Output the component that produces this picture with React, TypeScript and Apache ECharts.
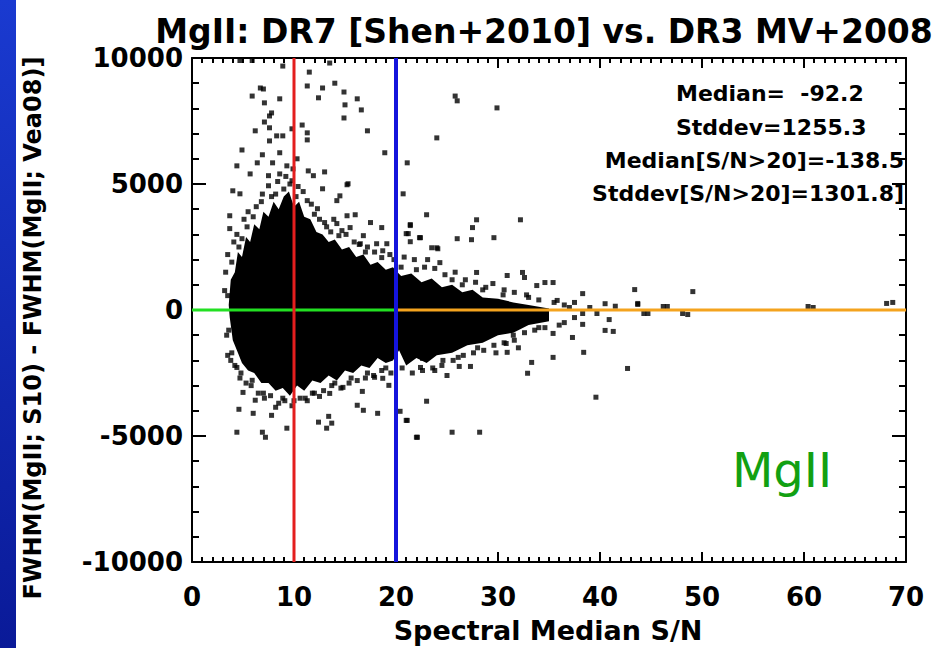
import React, { useEffect, useRef } from "react";
import * as echarts from "echarts";

// Axis ranges
const xRange = [0, 70];
const yRange = [-10000, 10000];

// Dense core of the scatter cloud: upper envelope (left to right), lower envelope (right to left)
const cloudUpperX = [3.6, 3.8, 4.2, 4.5, 4.9, 5.3, 5.7, 6.1, 6.6, 7.0, 7.5, 8.0, 8.5, 9.0, 9.5, 10.0, 10.5, 11.0, 11.6, 12.2, 12.8, 13.4, 14.0, 14.7, 15.4, 16.1, 16.8, 17.5, 18.2, 19.0, 19.7, 20.5, 21.5, 22.5, 23.5, 24.5, 25.5, 26.5, 27.5, 28.5, 30, 31.5, 33, 35];
const cloudUpperY = [200, 1200, 1500, 2300, 2100, 2900, 2700, 3400, 3200, 3900, 3700, 4300, 4000, 4500, 4700, 4100, 4300, 3700, 3600, 3100, 3000, 2700, 2800, 2400, 2500, 2100, 2200, 1800, 1900, 1600, 1700, 1350, 1450, 1100, 1250, 900, 1000, 700, 800, 500, 450, 300, 200, 60];
const cloudLowerX = [35, 33, 31.5, 30, 28.5, 27, 25.5, 24, 23, 22, 21, 20.3, 19.7, 19, 18.2, 17.4, 16.6, 15.8, 15, 14.2, 13.4, 12.6, 11.8, 11, 10.3, 9.6, 8.9, 8.2, 7.5, 6.8, 6.1, 5.5, 4.9, 4.4, 4.0, 3.7];
const cloudLowerY = [-450, -600, -900, -1000, -1300, -1400, -1700, -1800, -2100, -1900, -2200, -1600, -2000, -2100, -1900, -2300, -2200, -2500, -2400, -2800, -2600, -2900, -2800, -3200, -3000, -3400, -3100, -3200, -2900, -2900, -2500, -2400, -2100, -1600, -1200, -300];

// Individual points above the core
const upperPoints: number[][] = [
  [4.7, 9900], [5.9, 9900], [8.9, 9680], [13.5, 9800], [11.5, 9440], [6.7, 8810], [7.0, 8770],
  [11.3, 8890], [12.8, 8810], [14.0, 9000], [14.9, 8650], [5.9, 8490], [8.6, 8380], [7.1, 8220],
  [12.4, 8420], [15.0, 8140], [16.2, 8380], [16.6, 7940], [14.9, 7620], [7.8, 7820], [7.6, 7700],
  [7.1, 7460], [6.2, 7110], [7.6, 7230], [9.8, 7190], [10.8, 7340], [11.3, 7030], [17.2, 7110],
  [8.3, 6910], [8.9, 6910], [7.6, 6710], [11.3, 6750], [4.9, 6350], [6.9, 6160], [8.6, 6240],
  [10.3, 6000], [4.4, 5720], [6.4, 5840], [7.9, 5840], [9.3, 5720], [18.9, 6240], [21.1, 5840],
  [24.0, 6830], [5.7, 5400], [7.5, 5330], [8.6, 5400], [11.4, 5520], [13.0, 5480], [11.9, 5330],
  [9.8, 5130], [15.3, 5010], [25.8, 8490], [26.0, 8300], [29.9, 8020], [20.7, 4610], [23.0, 3780],
  [27.9, 3580], [32.2, 3580], [21.4, 3390], [27.5, 3270], [21.0, 3030], [22.3, 2870], [21.4, 2710],
  [26.0, 2830], [27.4, 2790], [29.6, 2870], [23.5, 2470], [24.1, 2430], [23.1, 2000], [24.3, 1880],
  [27.9, 1490], [30.9, 1370], [32.4, 1490], [32.6, 1290], [33.8, 970], [34.6, 1090], [35.4, 1090],
  [38.3, 650], [43.4, 810], [43.7, 260], [35.8, 380], [37.5, 300], [43.7, 220], [46.6, 140],
  [49.1, 730], [60.9, 100], [68.7, 300], [46.2, 140], [68.1, 260], [60.4, 140],
  [3.7, 3740], [3.7, 3230], [4.9, 2830], [3.2, 770], [3.5, 570], [4.0, 4730], [4.7, 4610],
  [7.5, 4930], [7.3, 3430], [15.2, 4970], [15.2, 3740], [16.0, 3780], [17.5, 3470], [18.6, 3270],
  [16.8, 2950], [13.0, 3470], [14.2, 3430], [14.7, 3150], [15.5, 3270], [21.4, 3350], [21.2, 3030],
  [22.4, 2870], [24.0, 2470], [11.3, 4340], [12.3, 4020], [14.2, 4340], [14.5, 4530], [12.8, 4810],
  [16.5, 2630], [18.1, 2630], [19.1, 2630], [18.6, 2080], [9.0, 4800], [9.6, 5000], [8.2, 4600],
  [10.2, 4500], [6.8, 4300], [5.4, 3300], [4.6, 2500], [6.0, 3700], [12.0, 3800], [13.6, 3100],
  [17.0, 2300], [19.8, 2000], [20.5, 1700], [22.0, 1600], [25.5, 1200], [26.5, 1000], [28.5, 800],
  [30.5, 600], [33.0, 500], [36.5, 200], [39.0, 100], [40.5, 250], [41.5, 150]
];

// Points along the ragged edge of the core
const fringePoints: number[][] = [
  [3.3, 1500], [3.4, -1000], [3.5, 2200], [3.9, 1900], [4.1, 2700], [4.4, 3000], [5.1, 3600],
  [5.5, 3900], [6.3, 4100], [6.9, 4600], [7.8, 4500], [8.4, 5100], [9.2, 5300], [9.9, 5600],
  [10.4, 4900], [10.9, 4700], [11.7, 4200], [12.5, 3600], [13.2, 3300], [13.9, 3600], [14.4, 2950],
  [15.1, 3000], [15.9, 2700], [16.4, 2600], [17.2, 2500], [17.9, 2300], [18.7, 2350], [19.4, 2200],
  [20.8, 2100], [21.8, 2000], [22.8, 1700], [23.8, 1650], [24.8, 1400], [25.8, 1500], [26.8, 1200],
  [27.8, 1100], [28.8, 900], [29.5, 1050], [30.6, 800], [31.6, 700], [32.8, 600], [34.0, 400],
  [35.5, 300], [37.0, 100], [3.5, -1800], [3.8, -2000], [4.2, -2200], [4.7, -2700], [5.3, -2900],
  [5.8, -3000], [6.5, -3300], [7.1, -3500], [7.7, -3400], [8.5, -3700], [9.1, -3600], [9.8, -3800],
  [10.6, -3500], [11.3, -3600], [12.0, -3300], [12.9, -3200], [13.7, -3000], [14.6, -3100],
  [15.4, -2900], [16.2, -2800], [17.0, -2700], [17.8, -2600], [18.6, -2400], [19.5, -2500],
  [20.6, -2300], [21.6, -2500], [22.6, -2400], [23.6, -2300], [24.6, -2000], [25.6, -2000],
  [26.6, -1800], [27.6, -1700], [28.6, -1600], [29.6, -1400], [30.6, -1300], [31.6, -1200],
  [32.6, -900], [33.6, -800], [34.6, -700], [36.0, -600], [37.5, -300]
];

// Individual points below the core
const lowerPoints: number[][] = [
  [44.3, -140], [48.1, -140], [44.7, -140], [48.6, -180], [38.3, -140], [39.7, -140], [40.9, -380],
  [40.5, -810], [41.3, -850], [38.3, -570], [37.3, -1090], [38.4, -1680], [35.4, -1880], [33.3, -2080],
  [32.9, -2510], [42.7, -2320], [39.6, -3460], [23.0, -3620], [21.0, -4380], [25.5, -4850], [22.0, -5050],
  [30.8, -1330], [30.9, -1680], [35.4, -930], [27.3, -2240], [26.2, -2240], [26.1, -1880],
  [4.4, -2280], [5.0, -3270], [5.9, -2790], [6.2, -3580], [4.6, -3940], [6.0, -4100], [7.8, -4180],
  [4.4, -4850], [6.9, -4850], [7.2, -5050], [8.2, -3860], [9.3, -4690], [12.4, -4450], [13.4, -4220],
  [13.7, -4490], [13.2, -4690], [16.2, -3780], [16.8, -3980], [18.2, -4100], [14.8, -3070], [16.7, -3230],
  [19.3, -2990], [13.5, -3310], [12.5, -3430], [11.1, -3500], [8.9, -3500], [20.4, -4020], [21.1, -4380],
  [22.1, -5050], [22.4, -2280], [22.6, -1920], [18.7, -2710], [17.9, -2670], [28.2, -4850],
  [3.6, -800], [3.9, -1700], [4.8, -2500], [7.0, -3300], [10.0, -3600], [11.8, -3300], [14.0, -2900],
  [15.6, -2700], [17.2, -2500], [19.0, -2300], [24.5, -2200], [28.0, -1500], [31.5, -1000], [34.0, -700],
  [36.5, -500], [25.0, -2600], [23.8, -2400], [29.8, -1700], [32.0, -1500]
];

// Reference lines
const redLine = [[10, -10000], [10, 10000]];
const blueLine = [[20, -10000], [20, 10000]];
const greenLine = [[0, 0], [20, 0]];
const orangeLine = [[20, 0], [70, 0]];

const statLines = [
  "Median=  -92.2",
  "Stddev=1255.3",
  "Median[S/N>20]=-138.5",
  "Stddev[S/N>20]=1301.8]"
];

const FONT = "DejaVu Sans";

export default function App() {
  const ref = useRef<HTMLDivElement>(null);
  useEffect(() => {
    document.body.style.margin = "0";
    const chart = echarts.init(ref.current!, undefined, { renderer: "svg" });
    const labelStyle = { color: "#000", fontFamily: FONT, fontWeight: "bold" as const, fontSize: 26 };
    const tickLine = { color: "#000", width: 2 };
    const mkX = (pos: string, showLabel: boolean) => ({
      type: "value", position: pos, min: xRange[0], max: xRange[1], interval: 10,
      axisLine: { show: true, onZero: false, lineStyle: { color: "#000", width: 2 } },
      axisTick: { show: true, inside: true, length: 10, lineStyle: tickLine },
      minorTick: { show: true, splitNumber: 10, length: 5, lineStyle: tickLine },
      splitLine: { show: false },
      minorSplitLine: { show: false },
      axisLabel: showLabel ? { ...labelStyle, margin: 22 } : { show: false }
    });
    const mkY = (pos: string, showLabel: boolean) => ({
      type: "value", position: pos, min: yRange[0], max: yRange[1], interval: 5000,
      axisLine: { show: true, onZero: false, lineStyle: { color: "#000", width: 2 } },
      axisTick: { show: true, inside: true, length: 14, lineStyle: tickLine },
      minorTick: { show: true, splitNumber: 5, length: 7, lineStyle: tickLine },
      splitLine: { show: false },
      minorSplitLine: { show: false },
      axisLabel: showLabel ? { ...labelStyle, margin: 9, formatter: (v: number) => String(v) } : { show: false }
    });
    const option: any = {
      animation: false,
      backgroundColor: "#fff",
      grid: { left: 192, top: 58, width: 714, height: 504 },
      xAxis: [mkX("bottom", true), mkX("top", false)],
      yAxis: [mkY("left", true), mkY("right", false)],
      series: [
        {
          type: "custom",
          z: 1,
          data: [0],
          renderItem: (params: any, api: any) => {
            const pts: number[][] = [];
            for (let i = 0; i < cloudUpperX.length; i++) pts.push(api.coord([cloudUpperX[i], cloudUpperY[i]]));
            for (let i = 0; i < cloudLowerX.length; i++) pts.push(api.coord([cloudLowerX[i], cloudLowerY[i]]));
            return { type: "polygon", shape: { points: pts }, style: { fill: "#000" } };
          }
        },
        { type: "scatter", z: 2, symbol: "rect", symbolSize: 5, itemStyle: { color: "#000" }, data: upperPoints },
        { type: "scatter", z: 2, symbol: "rect", symbolSize: 5, itemStyle: { color: "#000" }, data: fringePoints },
        { type: "scatter", z: 2, symbol: "rect", symbolSize: 5, itemStyle: { color: "#000" }, data: lowerPoints },
        { type: "line", z: 3, data: greenLine, symbol: "none", lineStyle: { color: "#22e022", width: 3 } },
        { type: "line", z: 3, data: orangeLine, symbol: "none", lineStyle: { color: "#f4a31e", width: 3 } },
        { type: "line", z: 4, data: redLine, symbol: "none", lineStyle: { color: "#e41e1e", width: 3 } },
        { type: "line", z: 4, data: blueLine, symbol: "none", lineStyle: { color: "#1414dc", width: 4 } }
      ],
      graphic: [
        {
          type: "rect", left: 0, top: 0, shape: { width: 16, height: 648 },
          style: {
            fill: new echarts.graphic.LinearGradient(0, 0, 0, 1, [
              { offset: 0, color: "#1a3ad0" },
              { offset: 1, color: "#0a1a98" }
            ])
          }
        },
        {
          type: "text", x: 544, y: 31,
          style: { text: "MgII: DR7 [Shen+2010] vs. DR3 MV+2008", fill: "#000", font: `bold 33px '${FONT}'`, textAlign: "center", textVerticalAlign: "middle" }
        },
        {
          type: "text", x: 33, y: 328, rotation: Math.PI / 2,
          style: { text: "FWHM(MgII; S10) - FWHM(MgII; Vea08)]", fill: "#000", font: `bold 24px '${FONT}'`, textAlign: "center", textVerticalAlign: "middle" }
        },
        {
          type: "text", x: 548, y: 630,
          style: { text: "Spectral Median S/N", fill: "#000", font: `bold 27px '${FONT}'`, textAlign: "center", textVerticalAlign: "middle" }
        },
        { type: "text", x: 676, y: 93, style: { text: statLines[0], fill: "#000", font: `bold 22px '${FONT}'`, textAlign: "left", textVerticalAlign: "middle" } },
        { type: "text", x: 676, y: 127, style: { text: statLines[1], fill: "#000", font: `bold 22px '${FONT}'`, textAlign: "left", textVerticalAlign: "middle" } },
        { type: "text", x: 904, y: 160, style: { text: statLines[2], fill: "#000", font: `bold 22px '${FONT}'`, textAlign: "right", textVerticalAlign: "middle" } },
        { type: "text", x: 904, y: 193, style: { text: statLines[3], fill: "#000", font: `bold 22px '${FONT}'`, textAlign: "right", textVerticalAlign: "middle" } },
        {
          type: "text", x: 782, y: 470,
          style: { text: "MgII", fill: "#12a012", font: `48px '${FONT}'`, textAlign: "center", textVerticalAlign: "middle" }
        }
      ]
    };
    chart.setOption(option);
    return () => chart.dispose();
  }, []);
  return <div ref={ref} style={{ width: 943, height: 648 }} />;
}
